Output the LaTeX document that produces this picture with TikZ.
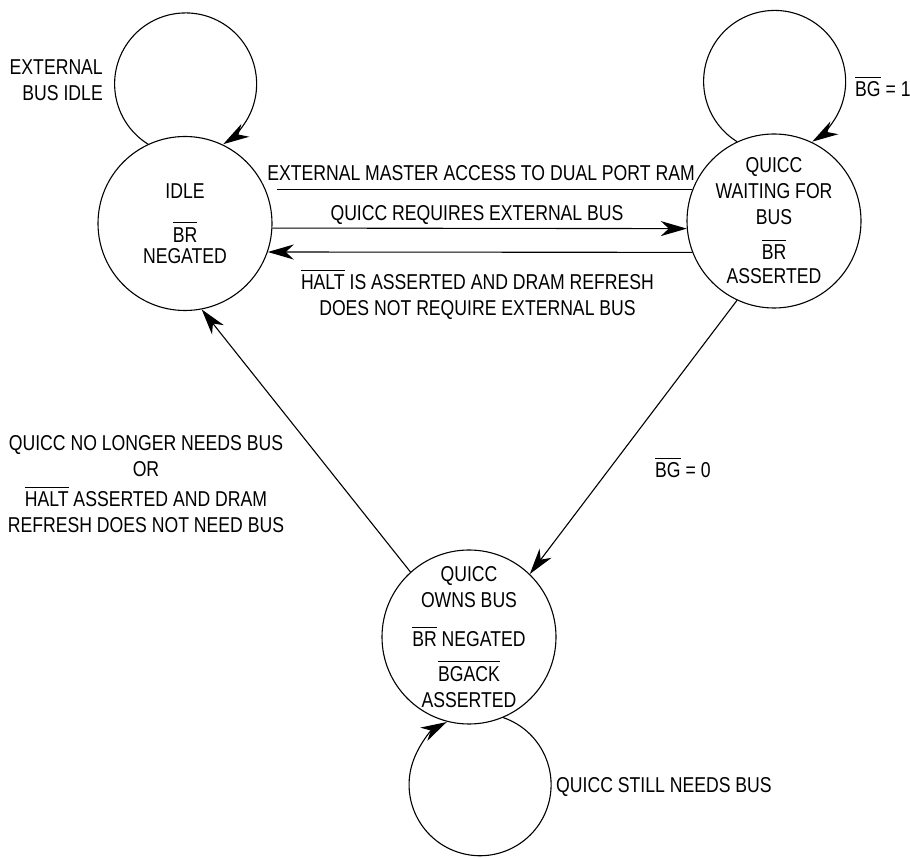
\documentclass[tikz,border=0pt]{standalone}
\usepackage{fontspec}
\setmainfont{Liberation Sans}[FakeStretch=0.82]
\usepackage{tikz}
\usetikzlibrary{arrows.meta}
% signal name with a bar over it (active low)
\newcommand{\ovl}[1]{\setbox0\hbox{#1}\rlap{\rule[\dimexpr\ht0+4pt\relax]{\wd0}{1.1pt}}\copy0\relax}

\begin{document}
\begin{tikzpicture}[x=1pt, y=1pt,
    every node/.style={font=\fontsize{21.5}{26}\selectfont},
    state/.style={circle, draw, line width=1.1pt, minimum size=174pt, inner sep=-14pt, align=center},
    lbl/.style={align=center, inner sep=0pt},
    trans/.style={line width=1.1pt, -{Stealth[length=26pt, width=15pt, inset=8pt]}}
]
  \useasboundingbox (0,0) rectangle (910,857);

  % Zustaende
  \node[state] (idle) at (185,633.5) {IDLE\\[18pt]\ovl{BR}\\[-5pt]NEGATED};
  \node[state] (wait) at (774,636) {QUICC\\WAITING FOR\\BUS\\[9pt]\ovl{BR}\\[-2pt]ASSERTED};
  \node[state] (owns) at (469,220) {QUICC\\OWNS BUS\\[13pt]\ovl{BR} NEGATED\\[9pt]\ovl{BGACK}\\ASSERTED};

  % Schleifen
  \draw[trans] (idle.115) arc[start angle=238, end angle=-58, radius=71];
  \draw[trans] (wait.115) arc[start angle=238, end angle=-58, radius=71];
  \draw[trans] (owns.-67) arc[start angle=71, end angle=-242, radius=71];

  % Uebergaenge
  \coordinate (ramtail) at (277,667);
  \draw[line width=1.1pt] (wait.159) -- (wait.159 -| ramtail);
  \draw[trans] (idle.-3) -- (wait.185);
  \draw[trans] (wait.201) -- (idle.-19.5);
  \draw[trans] (wait.245) -- (owns.46);
  \draw[trans] (owns.132) -- (idle.-79);

  % Beschriftungen
  \node[lbl, align=right, anchor=east] (idlelbl) at (103,776.5) {EXTERNAL\\BUS IDLE};
  \node[lbl, anchor=west] (waitlbl) at (855,770) {\ovl{BG} = 1};
  \node[lbl, anchor=west] (ownslbl) at (556,70) {QUICC STILL NEEDS BUS};
  \node[lbl] (ramlbl) at (481,684) {EXTERNAL MASTER ACCESS TO DUAL PORT RAM};
  \node[lbl] (reqlbl) at (477,642) {QUICC REQUIRES EXTERNAL BUS};
  \node[lbl] (haltlbl) at (477.5,562.5) {\ovl{HALT} IS ASSERTED AND DRAM REFRESH\\DOES NOT REQUIRE EXTERNAL BUS};
  \node[lbl, anchor=west] (grantlbl) at (655,389) {\ovl{BG} = 0};
  \node[lbl] (donelbl) at (146,372.5) {QUICC NO LONGER NEEDS BUS\\OR\\[4pt]\ovl{HALT} ASSERTED AND DRAM\\REFRESH DOES NOT NEED BUS};

\end{tikzpicture}
\end{document}
